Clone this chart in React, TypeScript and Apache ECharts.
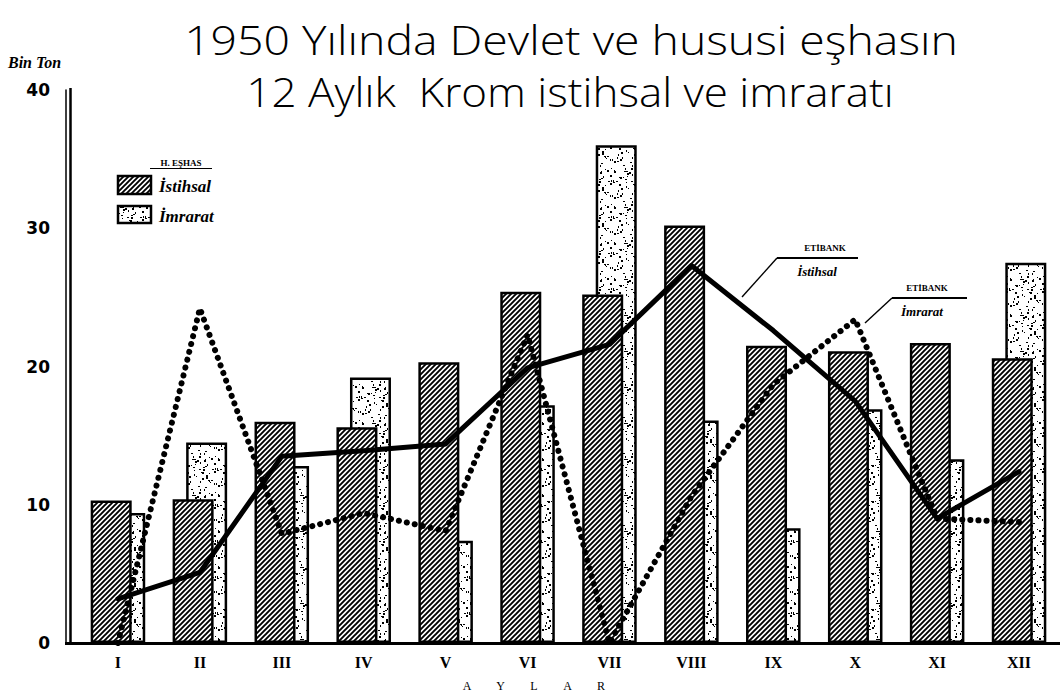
import React, { useEffect, useRef } from "react";
import * as echarts from "echarts";

const months = ["I", "II", "III", "IV", "V", "VI", "VII", "VIII", "IX", "X", "XI", "XII"];
const yMin = 0;
const yMax = 40;
const yStep = 10;
// H. Eşhas (private persons)
const eshasIstihsal = [10.3, 10.4, 16.0, 15.6, 20.3, 25.4, 25.2, 30.2, 21.5, 21.1, 21.7, 20.6];
const eshasImrarat = [9.4, 14.5, 12.8, 19.2, 7.4, 17.2, 36.0, 16.1, 8.3, 16.9, 13.3, 27.5];
// Etibank (state)
const etibankIstihsal = [3.2, 5.1, 13.5, 13.9, 14.4, 19.9, 21.6, 27.3, 22.6, 17.5, 9.0, 12.4];
const etibankImrarat = [0, 24.2, 7.9, 9.4, 8.1, 22.3, 0, 10.6, 18.7, 23.4, 9.0, 8.75];
const axisLetters = ["A", "Y", "L", "A", "R"];

function makeHatch() {
  const s = 5;
  const c = document.createElement("canvas");
  c.width = s;
  c.height = s;
  const g = c.getContext("2d")!;
  g.fillStyle = "#fff";
  g.fillRect(0, 0, s, s);
  g.strokeStyle = "#000";
  g.lineWidth = 1.9;
  g.beginPath();
  g.moveTo(-1, s + 1);
  g.lineTo(s + 1, -1);
  g.moveTo(-1, 1);
  g.lineTo(1, -1);
  g.moveTo(s - 1, s + 1);
  g.lineTo(s + 1, s - 1);
  g.stroke();
  return { image: c.toDataURL(), repeat: "repeat", imageWidth: s, imageHeight: s };
}

function hash(n: number) {
  let h = Math.imul(n ^ 0x9e3779b9, 0x85ebca6b);
  h ^= h >>> 13;
  h = Math.imul(h, 0xc2b2ae35);
  h ^= h >>> 16;
  return h >>> 0;
}

function makeStipple() {
  const W = 36;
  const H = 36;
  const c = document.createElement("canvas");
  c.width = W;
  c.height = H;
  const g = c.getContext("2d")!;
  g.fillStyle = "#fff";
  g.fillRect(0, 0, W, H);
  g.fillStyle = "#000";
  for (let i = 0; i < 62; i++) {
    const x = hash(i * 3 + 1) % W;
    const y = hash(i * 3 + 2) % H;
    const k = hash(i * 3 + 3) % 4;
    const w = k === 1 || k === 3 ? 2 : 1;
    const hh = k >= 2 ? 2 : 1;
    g.fillRect(x, y, w, hh);
  }
  return { image: c.toDataURL(), repeat: "repeat", imageWidth: W, imageHeight: H };
}

export default function App() {
  const ref = useRef<HTMLDivElement>(null);
  useEffect(() => {
    if (!ref.current) return;
    const chart = echarts.init(ref.current, null, { renderer: "svg" });
    const hatch = makeHatch();
    const stipple = makeStipple();
    const serif = "'Liberation Serif', 'DejaVu Serif', serif";
    const titleFont = "'Open Sans', sans-serif";
    const option: any = {
      animation: false,
      backgroundColor: "#fff",
      grid: { left: 77, right: -7, top: 90, bottom: 55, containLabel: false },
      xAxis: {
        type: "category",
        data: months,
        boundaryGap: true,
        axisLine: { lineStyle: { color: "#000", width: 3 } },
        axisTick: { show: false },
        axisLabel: { color: "#000", fontFamily: serif, fontWeight: "bold", fontSize: 16, margin: 11 },
      },
      yAxis: {
        type: "value",
        min: yMin,
        max: yMax,
        interval: yStep,
        offset: 11,
        axisLine: { show: true, lineStyle: { color: "#000", width: 1.5 } },
        axisTick: { show: false },
        splitLine: { show: false },
        axisLabel: { color: "#000", fontFamily: "'DejaVu Sans', sans-serif", fontWeight: "bold", fontSize: 17, margin: 16 },
      },
      series: [
        {
          name: "İstihsal",
          type: "bar",
          data: eshasIstihsal,
          barWidth: 41,
          barGap: "-67%",
          z: 3,
          itemStyle: { color: hatch, borderColor: "#000", borderWidth: 2.5 },
        },
        {
          name: "İmrarat",
          type: "bar",
          data: eshasImrarat,
          barWidth: 41,
          barGap: "-67%",
          z: 2,
          itemStyle: { color: stipple, borderColor: "#000", borderWidth: 2.5 },
        },
        {
          name: "Etibank İstihsal",
          type: "line",
          data: etibankIstihsal,
          symbol: "none",
          z: 6,
          lineStyle: { color: "#000", width: 5, join: "round", cap: "round" },
        },
        {
          name: "Etibank İmrarat",
          type: "line",
          data: etibankImrarat,
          symbol: "none",
          z: 5,
          lineStyle: { color: "#000", width: 6, type: [0.1, 8], cap: "round" },
        },
      ],
      graphic: [
        // title
        {
          type: "text",
          x: 571,
          y: 40,
          scaleX: 1.16,
          style: {
            text: "1950 Yılında Devlet ve hususi eşhasın",
            fontFamily: titleFont,
            fontWeight: 300,
            fontSize: 40,
            fill: "#000",
            textAlign: "center",
            textVerticalAlign: "middle",
          },
        },
        {
          type: "text",
          x: 570,
          y: 91,
          scaleX: 1.1,
          style: {
            text: "12 Aylık  Krom istihsal ve imraratı",
            fontFamily: titleFont,
            fontWeight: 300,
            fontSize: 40,
            fill: "#000",
            textAlign: "center",
            textVerticalAlign: "middle",
          },
        },
        {
          type: "text",
          x: 8,
          y: 62,
          style: {
            text: "Bin Ton",
            fontFamily: serif,
            fontWeight: "bold",
            fontStyle: "italic",
            fontSize: 16,
            fill: "#000",
            textAlign: "left",
            textVerticalAlign: "middle",
          },
        },
        // second y axis line (double rule)
        { type: "line", shape: { x1: 70.5, y1: 88, x2: 70.5, y2: 645 }, style: { stroke: "#000", lineWidth: 2.5 } },
        { type: "line", shape: { x1: 65, y1: 643.5, x2: 79, y2: 643.5 }, style: { stroke: "#000", lineWidth: 3 } },
        // x axis title letters
        ...axisLetters.map((ch, i) => ({
          type: "text",
          x: 467 + i * 33.5,
          y: 686,
          style: {
            text: ch,
            fontFamily: serif,
            fontSize: 12,
            fill: "#000",
            textAlign: "center",
            textVerticalAlign: "middle",
          },
        })),
        // legend
        {
          type: "text",
          x: 181,
          y: 163,
          style: {
            text: "H. EŞHAS",
            fontFamily: serif,
            fontWeight: "bold",
            fontSize: 9,
            fill: "#000",
            textAlign: "center",
            textVerticalAlign: "middle",
          },
        },
        { type: "line", shape: { x1: 150, y1: 168.5, x2: 212, y2: 168.5 }, style: { stroke: "#000", lineWidth: 1.2 } },
        {
          type: "rect",
          shape: { x: 118, y: 176, width: 33, height: 18 },
          style: { fill: hatch, stroke: "#000", lineWidth: 2.5 },
        },
        {
          type: "rect",
          shape: { x: 118, y: 206, width: 33, height: 17 },
          style: { fill: stipple, stroke: "#000", lineWidth: 2.5 },
        },
        {
          type: "text",
          x: 159,
          y: 186,
          style: {
            text: "İstihsal",
            fontFamily: serif,
            fontWeight: "bold",
            fontStyle: "italic",
            fontSize: 17,
            fill: "#000",
            textAlign: "left",
            textVerticalAlign: "middle",
          },
        },
        {
          type: "text",
          x: 159,
          y: 216,
          style: {
            text: "İmrarat",
            fontFamily: serif,
            fontWeight: "bold",
            fontStyle: "italic",
            fontSize: 17,
            fill: "#000",
            textAlign: "left",
            textVerticalAlign: "middle",
          },
        },
        // Etibank İstihsal annotation
        { type: "line", shape: { x1: 777, y1: 258, x2: 858, y2: 258 }, style: { stroke: "#000", lineWidth: 2.2 } },
        { type: "line", shape: { x1: 777, y1: 258, x2: 742, y2: 297 }, style: { stroke: "#000", lineWidth: 1.4 } },
        {
          type: "text",
          x: 825,
          y: 248,
          style: {
            text: "ETİBANK",
            fontFamily: serif,
            fontWeight: "bold",
            fontSize: 9,
            fill: "#000",
            textAlign: "center",
            textVerticalAlign: "middle",
          },
        },
        {
          type: "text",
          x: 817,
          y: 271,
          style: {
            text: "İstihsal",
            fontFamily: serif,
            fontWeight: "bold",
            fontStyle: "italic",
            fontSize: 13,
            fill: "#000",
            textAlign: "center",
            textVerticalAlign: "middle",
          },
        },
        // Etibank İmrarat annotation
        { type: "line", shape: { x1: 892, y1: 298, x2: 967, y2: 298 }, style: { stroke: "#000", lineWidth: 2.2 } },
        { type: "line", shape: { x1: 892, y1: 298, x2: 865, y2: 323 }, style: { stroke: "#000", lineWidth: 1.4 } },
        {
          type: "text",
          x: 927,
          y: 288,
          style: {
            text: "ETİBANK",
            fontFamily: serif,
            fontWeight: "bold",
            fontSize: 9,
            fill: "#000",
            textAlign: "center",
            textVerticalAlign: "middle",
          },
        },
        {
          type: "text",
          x: 922,
          y: 311,
          style: {
            text: "İmrarat",
            fontFamily: serif,
            fontWeight: "bold",
            fontStyle: "italic",
            fontSize: 13,
            fill: "#000",
            textAlign: "center",
            textVerticalAlign: "middle",
          },
        },
      ],
    };
    chart.setOption(option);
    return () => chart.dispose();
  }, []);
  return (
    <div
      ref={ref}
      style={{ position: "absolute", left: 0, top: 0, width: 1060, height: 698, background: "#fff" }}
    />
  );
}
